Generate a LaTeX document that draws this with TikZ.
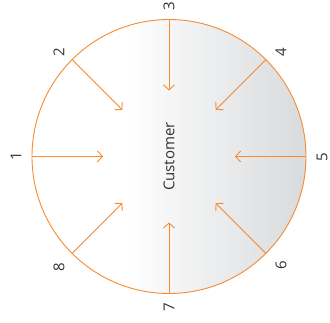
\documentclass[tikz,border=0pt]{standalone}
\usepackage{fontspec}
\setmainfont{Open Sans}
\usetikzlibrary{arrows.meta}
\definecolor{orng}{RGB}{246,139,48}
\definecolor{txt}{RGB}{51,51,51}
\definecolor{shd}{RGB}{216,218,220}
\pgfdeclarehorizontalshading{custshade}{100bp}{color(0bp)=(white); color(42bp)=(white); color(75bp)=(shd); color(100bp)=(shd)}
\begin{document}
\begin{tikzpicture}[x=1pt,y=1pt,
  rim/.style={circle, draw=orng, line width=0.9pt, minimum size=274pt, inner sep=0pt, shading=custshade},
  spoke/.style={draw=orng, line width=0.9pt, -{Straight Barb[length=5pt,width=11pt,line width=0.9pt]}},
  num/.style={text=txt, font=\fontsize{15}{15}\selectfont, rotate=90, inner sep=0pt, anchor=center},
]
\useasboundingbox (0,0) rectangle (330,322);
\node[rim] (cust) at (169,165.5) {};
\node[num] (title) at (169,165.5) {Customer};
\foreach \i/\a in {1/180,2/135,3/90,4/45,5/0,6/-45,7/-90,8/-135}{
  \coordinate (e\i) at ([shift={(\a:66pt)}]cust.center);
  \draw[spoke] (cust.\a) -- (e\i);
}
\node[num] (n1) at (16,166) {1};
\node[num] (n2) at (59,270) {2};
\node[num] (n3) at (169,315.5) {3};
\node[num] (n4) at (281,270) {4};
\node[num] (n5) at (322,165) {5};
\node[num] (n6) at (281,57) {6};
\node[num] (n7) at (169,15) {7};
\node[num] (n8) at (59,55) {8};
\end{tikzpicture}
\end{document}
